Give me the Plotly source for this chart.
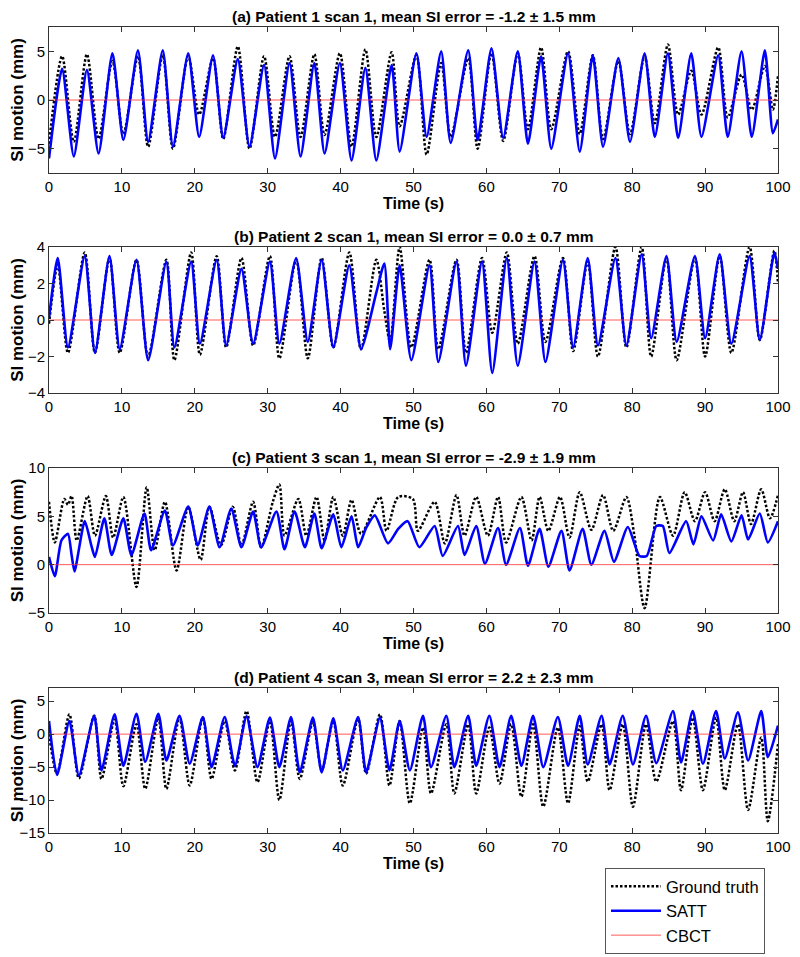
import plotly.graph_objects as go

t_a = [0, 1.8, 3.4, 5.2, 6.8, 8.7, 10.2, 12.2, 13.6, 15.6,
       17.0, 19.1, 20.6, 22.5, 23.9, 25.9, 27.5, 29.5, 31.0, 33.0,
       34.5, 36.4, 37.8, 39.9, 41.5, 43.4, 44.9, 47.0, 48.1, 50.4,
       51.8, 53.8, 55.1, 57.5, 58.8, 60.7, 62.3, 64.3, 65.7, 67.5,
       68.9, 71.2, 72.8, 74.6, 76.0, 78.1, 79.7, 81.7, 83.1, 84.9,
       86.3, 88.1, 89.5, 91.8, 93.1, 95.0, 96.4, 98.2, 99.3, 100]
gt_a = [-4.5, 4.5, -4.3, 4.7, -4.0, 4.0, -3.5, 4.5, -4.8, 4.6,
        -5.0, 4.5, -1.5, 4.3, -4.0, 5.5, -5.0, 4.5, -3.8, 4.5,
        -3.8, 4.7, -3.6, 4.8, -4.8, 5.2, -3.8, 4.9, -2.7, 4.6,
        -5.6, 3.8, -3.8, 4.3, -5.0, 4.8, -4.2, 4.8, -3.0, 5.4,
        -3.0, 5.0, -3.5, 4.6, -4.0, 4.0, -3.5, 4.5, -2.4, 5.7,
        -1.5, 3.0, -1.5, 5.4, -1.8, 2.6, -1.0, 3.5, -1.0, 2.5]
satt_a = [-6.0, 3.2, -5.8, 3.1, -5.5, 4.8, -4.1, 5.1, -4.3, 5.1,
          -4.8, 4.8, -3.8, 4.6, -3.9, 4.2, -4.8, 3.6, -6.0, 3.8,
          -5.8, 3.8, -5.5, 3.8, -6.2, 3.3, -6.2, 3.6, -5.3, 4.8,
          -3.8, 5.0, -4.4, 5.1, -4.1, 5.3, -3.9, 5.0, -4.5, 4.5,
          -5.0, 4.8, -5.3, 4.6, -4.8, 4.3, -4.3, 4.8, -3.8, 4.8,
          -3.9, 4.8, -3.8, 4.6, -3.8, 5.0, -3.8, 5.1, -3.4, -2.0]

t_b = [0, 1.2, 2.6, 4.9, 6.3, 8.3, 9.7, 12.0, 13.6, 16.1,
       17.2, 19.5, 20.7, 23.0, 24.3, 26.4, 28.0, 30.3, 31.6, 33.9,
       35.5, 37.4, 39.0, 41.2, 42.8, 44.9, 46.0, 46.8, 48.1, 49.7,
       52.2, 53.4, 55.9, 57.2, 59.4, 60.8, 62.8, 64.3, 66.6, 68.1,
       70.5, 71.9, 73.9, 75.3, 77.7, 79.2, 81.3, 82.6, 84.7, 86.1,
       88.6, 90.0, 92.0, 93.6, 96.1, 97.5, 99.5, 100]
gt_b = [-0.2, 3.0, -1.8, 3.7, -1.8, 3.4, -1.8, 3.3, -2.0, 3.3,
        -2.2, 3.7, -1.9, 3.5, -1.5, 3.4, -1.4, 3.5, -2.1, 3.3,
        -2.1, 3.4, -1.5, 3.7, -1.6, 3.3, 0.5, -1.2, 4.0, -1.5,
        3.3, -1.6, 3.3, -1.8, 3.4, -0.7, 3.7, -1.3, 3.5, -1.2,
        3.4, -1.7, 3.2, -2.0, 4.0, -1.5, 4.0, -2.0, 3.4, -2.2,
        3.4, -2.0, 3.5, -1.8, 4.0, -1.1, 3.8, 2.0]
satt_b = [0.1, 3.4, -1.5, 3.5, -1.8, 3.5, -1.6, 3.3, -2.2, 3.2,
          -1.5, 3.2, -1.3, 3.3, -1.4, 2.8, -1.3, 3.2, -1.3, 3.4,
          -1.2, 3.3, -1.5, 3.0, -1.6, 1.5, 3.1, -1.6, 3.0, -2.2,
          3.0, -2.3, 3.2, -2.5, 3.2, -2.9, 3.4, -2.5, 3.2, -2.3,
          3.3, -1.5, 3.4, -1.4, 3.4, -1.4, 3.6, -1.0, 3.5, -1.2,
          3.5, -1.0, 3.6, -1.3, 3.5, -1.1, 3.7, 2.8]

t_gt_c = [0, 0.8, 2.1, 2.6, 3.1, 3.8, 5.3, 6.3, 7.8, 8.8,
          10.2, 12.0, 13.4, 14.5, 15.9, 17.5, 19.1, 20.8, 22.0, 23.6,
          25.2, 26.4, 28.0, 29.1, 30.7, 31.6, 32.3, 34.2, 35.3, 36.7,
          37.8, 39.0, 40.3, 41.5, 42.8, 45.4, 46.3, 47.9, 49.9, 50.6,
          52.9, 54.3, 55.9, 57.0, 58.6, 60.2, 61.6, 62.7, 64.8, 66.2,
          67.3, 68.5, 70.1, 71.4, 72.8, 74.4, 76.0, 77.4, 79.2, 80.3,
          81.7, 83.8, 85.6, 87.2, 88.6, 90.0, 91.3, 92.7, 94.0, 95.2,
          96.3, 97.7, 98.9, 100]
gt_c = [6.5, 2.3, 6.8, 6.2, 7.1, 2.5, 7.1, 3.0, 7.1, 2.8,
        7.0, -2.3, 8.0, 1.5, 6.5, -0.6, 6.0, 0.5, 6.0, 2.0,
        6.0, 2.0, 6.5, 1.8, 6.5, 8.3, 3.0, 6.8, 3.0, 7.0,
        2.5, 7.0, 3.0, 6.7, 3.2, 7.0, 3.5, 7.0, 6.8, 3.5,
        6.5, 2.2, 7.2, 3.0, 7.0, 3.0, 7.0, 2.3, 7.0, 2.5,
        7.0, 3.5, 7.0, 2.8, 7.5, 3.6, 7.2, 3.5, 7.0, 3.0,
        -4.5, 7.0, 3.0, 7.5, 4.5, 7.5, 4.5, 7.8, 4.5, 7.5,
        4.2, 7.8, 4.8, 7.2]
t_satt_c = [0, 0.8, 1.7, 2.6, 3.1, 3.5, 4.9, 5.8, 6.3, 7.6,
            8.6, 10.2, 11.3, 13.1, 14.0, 15.9, 17.0, 19.1, 20.4, 22.0,
            23.4, 25.0, 26.4, 28.0, 29.1, 31.2, 32.3, 33.7, 35.1, 36.4,
            37.4, 39.0, 40.1, 41.5, 42.4, 43.5, 44.7, 46.5, 47.9, 49.2,
            50.8, 52.9, 54.0, 56.1, 57.0, 58.6, 59.8, 61.6, 62.7, 64.6,
            65.7, 67.3, 68.5, 70.3, 71.4, 73.2, 74.4, 76.2, 77.5, 79.4,
            81.0, 82.0, 83.3, 84.2, 85.1, 87.4, 88.4, 89.5, 91.1, 92.2,
            93.6, 95.0, 95.9, 97.5, 98.6, 100]
satt_c = [0.8, -1.2, 2.5, 3.2, 1.0, -0.7, 4.5, 2.0, 0.8, 4.8,
          1.0, 4.8, 1.0, 5.3, 1.5, 5.6, 2.0, 6.0, 2.0, 6.0,
          1.8, 5.8, 1.8, 5.5, 1.8, 5.5, 1.6, 5.5, 1.8, 5.3,
          1.7, 5.2, 1.8, 5.0, 1.8, 3.8, 5.1, 2.2, 3.7, 4.5,
          1.8, 4.0, 0.9, 4.0, 1.0, 4.0, 0.1, 3.8, 0.0, 3.8,
          -0.1, 3.7, -0.2, 3.5, -0.6, 3.7, 0.0, 3.5, 0.3, 3.9,
          0.9, 0.9, 4.0, 4.0, 1.2, 4.5, 2.1, 5.0, 2.5, 5.2,
          2.4, 5.1, 2.6, 5.3, 2.3, 4.5]

t_d = [0, 1.1, 2.8, 4.1, 6.2, 7.2, 9.0, 10.2, 12.0, 13.2,
       15.0, 16.1, 17.9, 19.3, 21.1, 22.3, 24.1, 25.5, 27.1, 28.6,
       30.3, 31.6, 33.2, 34.4, 36.2, 37.4, 39.0, 40.3, 42.4, 43.5,
       45.4, 46.7, 48.1, 49.5, 51.3, 52.4, 54.5, 55.6, 57.5, 58.6,
       60.4, 61.8, 63.4, 64.8, 66.4, 67.8, 69.8, 71.2, 72.8, 73.9,
       75.8, 76.9, 78.7, 80.1, 81.9, 83.3, 85.6, 86.7, 88.3, 89.7,
       91.5, 92.7, 94.5, 95.9, 97.7, 98.6, 100]
gt_d = [0.0, -6.0, 3.0, -6.7, 2.8, -6.8, 2.2, -7.9, 1.5, -8.3,
        2.5, -8.3, 2.5, -7.8, 2.5, -6.8, 2.0, -5.5, 3.5, -7.3,
        2.0, -10.0, 2.0, -6.8, 1.8, -5.5, 2.0, -7.8, 2.3, -6.0,
        3.0, -7.8, 2.0, -10.5, 1.0, -9.0, 1.5, -9.0, 1.5, -9.0,
        1.0, -7.5, 1.5, -9.5, 1.5, -11.0, 1.0, -10.5, 1.2, -7.2,
        1.5, -8.5, 1.5, -11.0, 1.5, -7.2, 2.0, -8.5, 2.5, -8.5,
        2.5, -8.5, 1.5, -11.5, -0.5, -13.2, -1.5]
satt_d = [2.0, -6.2, 2.0, -6.3, 2.8, -5.5, 3.0, -4.8, 3.1, -4.2,
          3.1, -4.0, 2.8, -4.5, 2.6, -5.0, 2.6, -4.8, 2.7, -5.0,
          2.5, -5.0, 2.6, -5.8, 2.5, -5.8, 2.4, -5.5, 2.6, -5.8,
          2.5, -5.5, 2.0, -5.5, 2.8, -5.0, 2.8, -5.0, 2.8, -4.8,
          2.8, -5.0, 2.8, -4.8, 2.8, -5.0, 2.6, -4.8, 2.8, -4.6,
          2.8, -4.6, 2.8, -4.6, 2.8, -4.4, 3.5, -4.3, 3.5, -4.5,
          3.5, -3.7, 3.3, -4.0, 3.5, -3.5, 1.3]

cbct_t = [0, 100]
cbct_val = [0, 0]

titles = ['(a) Patient 1 scan 1, mean SI error = -1.2 ± 1.5 mm',
          '(b) Patient 2 scan 1, mean SI error = 0.0 ± 0.7 mm',
          '(c) Patient 3 scan 1, mean SI error = -2.9 ± 1.9 mm',
          '(d) Patient 4 scan 3, mean SI error = 2.2 ± 2.3 mm']
y_ranges = [[-7.5, 7.5], [-4, 4], [-5, 10], [-15, 7]]
y_ticks = [[-5, 0, 5], [-4, -2, 0, 2, 4], [-5, 0, 5, 10], [-15, -10, -5, 0, 5]]
x_ticks = list(range(0, 101, 10))

panels = [(t_a, gt_a, t_a, satt_a),
          (t_b, gt_b, t_b, satt_b),
          (t_gt_c, gt_c, t_satt_c, satt_c),
          (t_d, gt_d, t_d, satt_d)]

W, H = 800, 957
OFF = 8  # the page body adds an 8px margin, so page pixels are shifted back by this
FONT = 'Arial, Liberation Sans, sans-serif'
# plot boxes in page pixels (top, bottom)
boxes = [(27, 173), (247, 393), (468, 613), (688, 833)]
x_left, x_right = 49 - OFF, 778 - OFF


def fy(py):
    return 1 - (py - OFF) / H


fig = go.Figure()

for i, (tg, g, ts, s) in enumerate(panels):
    n = '' if i == 0 else str(i + 1)
    xa, ya = 'x' + n, 'y' + n
    first = i == 0
    fig.add_trace(go.Scatter(x=tg, y=g, mode='lines', name='Ground truth',
                             line=dict(color='black', width=2.5, dash='2.5px,2px',
                                       shape='spline', smoothing=0.8),
                             xaxis=xa, yaxis=ya, showlegend=first, legendrank=1))
    fig.add_trace(go.Scatter(x=ts, y=s, mode='lines', name='SATT',
                             line=dict(color='#0000ff', width=2.6,
                                       shape='spline', smoothing=0.6),
                             xaxis=xa, yaxis=ya, showlegend=first, legendrank=2))
    fig.add_trace(go.Scatter(x=cbct_t, y=cbct_val, mode='lines', name='CBCT',
                             line=dict(color='#ff3030', width=0.8),
                             xaxis=xa, yaxis=ya, showlegend=first, legendrank=3))

    top, bot = boxes[i]
    axis_common = dict(showline=True, linecolor='#333333', linewidth=1, mirror='allticks',
                       ticks='inside', ticklen=5, tickcolor='#333333', showgrid=False,
                       zeroline=False, automargin=False,
                       tickfont=dict(family=FONT, size=15, color='black'))
    fig.layout['xaxis' + n] = dict(domain=[x_left / W, x_right / W], range=[0, 100],
                                   tickvals=x_ticks, anchor=ya,
                                   title=dict(text='<b>Time (s)</b>', standoff=0,
                                              font=dict(family=FONT, size=16, color='black')),
                                   **axis_common)
    fig.layout['yaxis' + n] = dict(domain=[fy(bot), fy(top)], range=y_ranges[i],
                                   tickvals=y_ticks[i], anchor=xa,
                                   title=dict(text='<b>SI motion (mm)</b>', standoff=4,
                                              font=dict(family=FONT, size=17, color='black')),
                                   **axis_common)
    fig.add_annotation(text='<b>' + titles[i] + '</b>', xref='paper', yref='paper',
                       x=(x_left + x_right) / 2 / W, y=fy(top - 10.5),
                       xanchor='center', yanchor='middle', showarrow=False,
                       font=dict(family=FONT, size=15.5, color='black'))

fig.update_layout(
    width=W, height=H,
    margin=dict(l=0, r=0, t=0, b=0),
    plot_bgcolor='white', paper_bgcolor='white',
    font=dict(family=FONT, color='black'),
    legend=dict(x=(605 - OFF) / W, y=fy(868), xanchor='left', yanchor='top',
                bordercolor='#555555', borderwidth=1, bgcolor='white',
                font=dict(family=FONT, size=16.5, color='black'),
                traceorder='normal', itemwidth=50, tracegroupgap=0),
)

fig.write_html("out.html")
